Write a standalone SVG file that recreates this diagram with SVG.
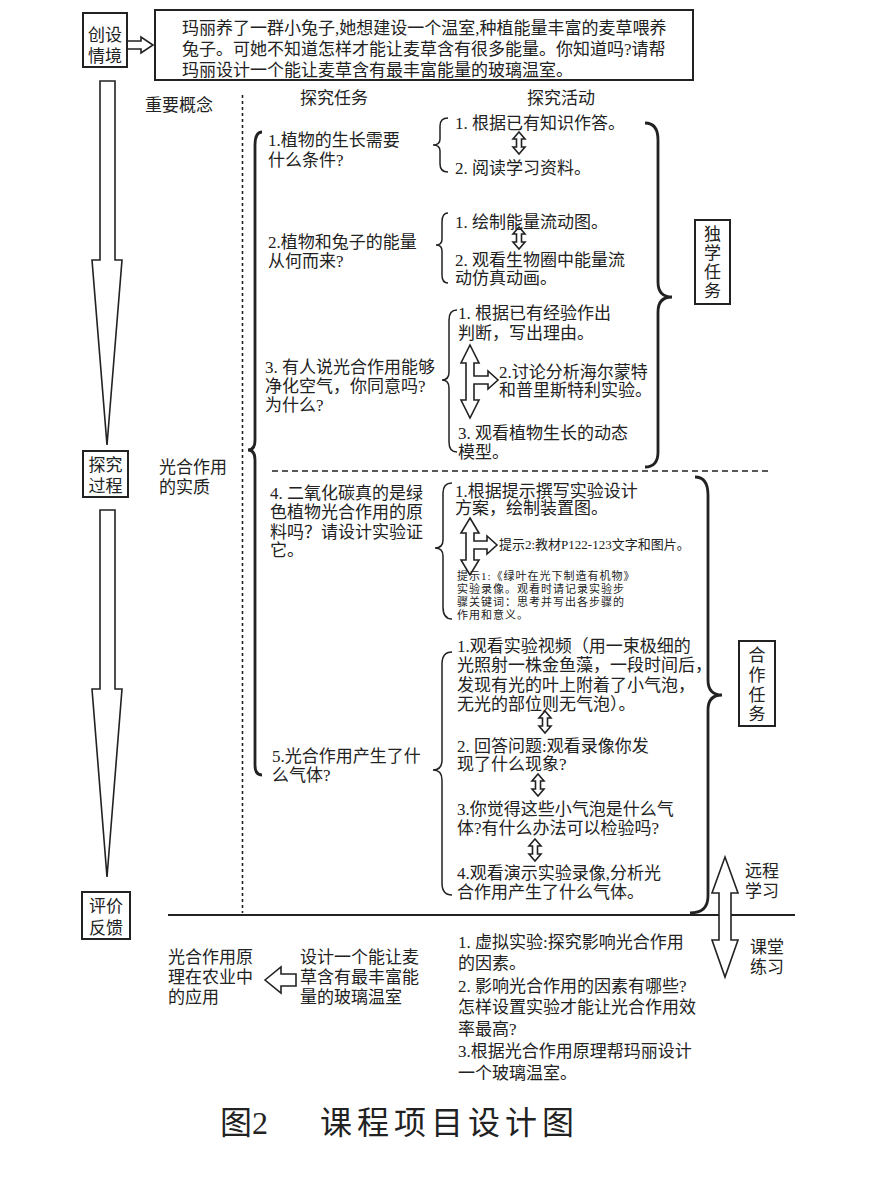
<svg xmlns="http://www.w3.org/2000/svg" width="870" height="1182" viewBox="0 0 870 1182">
<style>
text{font-family:"Liberation Serif","Noto Sans CJK SC",serif;font-size:17px;fill:#222}
.sm{font-size:13px}
.xs{font-size:11px;letter-spacing:1px}
.mid{text-anchor:middle}
.box{fill:#fff;stroke:#222;stroke-width:2}
.ol{fill:#fff;stroke:#222;stroke-width:1.6;stroke-linejoin:miter}
.br{fill:none;stroke:#222;stroke-width:1.5}
.bbr{fill:none;stroke:#222;stroke-width:2.8}
.title{font-size:32px}
</style>
<defs>
<path id="dbl" d="M0,-11 L6,-4 L2.5,-4 L2.5,4 L6,4 L0,11 L-6,4 L-2.5,4 L-2.5,-4 L-6,-4 Z" class="ol"/>
</defs>
<rect width="870" height="1182" fill="#fff"/>

<g id="connectors">
<path class="ol" d="M100,81 L115,81 L115,260 L122,260 L107,445 L92,260 L100,260 Z"/>
<path class="ol" d="M100,510 L115,510 L115,689 L122,689 L107,877 L92,689 L100,689 Z"/>
<path class="ol" d="M127,41 L141,41 L141,37 L153,45 L141,53 L141,49 L127,49 Z"/>
<line x1="242.5" y1="95" x2="242.5" y2="913" stroke="#222" stroke-width="1.6" stroke-dasharray="3,3"/>
<line x1="272" y1="471" x2="768" y2="471" stroke="#222" stroke-width="1.3" stroke-dasharray="6,4"/>
<line x1="168" y1="915" x2="795" y2="915" stroke="#222" stroke-width="2"/>
<path class="bbr" d="M262,132 Q255,132 255,145 L255,440 Q255,450 248,450 Q255,450 255,460 L255,765 Q255,775 262,775"/>
<path class="bbr" d="M645,123 Q658,123 658,140 L658,282 Q658,297 672,297 Q658,297 658,312 L658,452 Q658,467 645,467"/>
<path class="bbr" d="M695,477 Q708,477 708,495 L708,680 Q708,695 722,695 Q708,695 708,710 L708,896 Q708,913 690,913"/>
<path class="br" d="M448,118 Q440,118 440,126 L440,139 Q440,145 433,145 Q440,145 440,151 L440,164 Q440,172 448,172"/>
<path class="br" d="M448,213 Q442,213 442,222 L442,239 Q442,245 436,245 Q442,245 442,251 L442,275 Q442,283 448,283"/>
<path class="br" d="M457,310 Q449,310 449,320 L449,372 Q449,380 442,380 Q449,380 449,388 L449,442 Q449,452 457,452"/>
<path class="br" d="M452,483 Q443,483 443,493 L443,540 Q443,548 435,548 Q443,548 443,556 L443,607 Q443,619 452,619"/>
<path class="br" d="M452,652 Q442,652 442,664 L442,760 Q442,770 433,770 Q442,770 442,780 L442,883 Q442,895 452,895"/>
<use href="#dbl" x="519" y="143"/>
<use href="#dbl" x="519" y="238"/>
<use href="#dbl" x="545" y="722"/>
<use href="#dbl" x="538" y="785"/>
<use href="#dbl" x="535" y="850"/>
<path class="ol" d="M470,345 L479,363 L474,363 L474,376 L488,376 L488,371 L498,380 L488,389 L488,384 L474,384 L474,400 L479,400 L470,418 L461,400 L466,400 L466,363 L461,363 Z"/>
<path class="ol" d="M470,518 L479,533 L474,533 L474,541 L487,541 L487,536 L497,545 L487,554 L487,549 L474,549 L474,560 L479,560 L470,575 L461,560 L466,560 L466,533 L461,533 Z"/>
<path class="ol" d="M725,857 L738,893 L731,893 L731,940 L738,940 L725,977 L712,940 L719,940 L719,893 L712,893 Z"/>
<path class="ol" d="M265,980 L281,967 L281,974 L296,974 L296,986 L281,986 L281,993 Z"/>
</g>

<g id="node-chuangshe">
<rect class="box" x="83" y="13" width="44" height="54"/>
<text class="mid" x="105" y="41">创设</text>
<text class="mid" x="105" y="62">情境</text>
</g>
<g id="node-scenario">
<rect class="box" x="155" y="10" width="538" height="70"/>
<text x="182" y="34">玛丽养了一群小兔子,她想建设一个温室,种植能量丰富的麦草喂养</text>
<text x="182" y="55">兔子。可她不知道怎样才能让麦草含有很多能量。你知道吗?请帮</text>
<text x="182" y="76">玛丽设计一个能让麦草含有最丰富能量的玻璃温室。</text>
</g>
<g id="node-tanjiu">
<rect class="box" x="83" y="451" width="45" height="46"/>
<text class="mid" x="105.5" y="471">探究</text>
<text class="mid" x="105.5" y="492">过程</text>
</g>
<g id="node-pingjia">
<rect class="box" x="82" y="892" width="48" height="47"/>
<text class="mid" x="106" y="912">评价</text>
<text class="mid" x="106" y="934">反馈</text>
</g>
<g id="headers">
<text x="145" y="111">重要概念</text>
<text x="300" y="104">探究任务</text>
<text x="527" y="104">探究活动</text>
</g>
<g id="node-concept">
<text x="159" y="473">光合作用</text>
<text x="159" y="493">的实质</text>
</g>
<g id="node-task1">
<text x="268" y="146">1.植物的生长需要</text>
<text x="268" y="166">什么条件?</text>
<text x="455" y="129">1. 根据已有知识作答。</text>
<text x="455" y="174">2. 阅读学习资料。</text>
</g>
<g id="node-task2">
<text x="268" y="248">2.植物和兔子的能量</text>
<text x="268" y="267">从何而来?</text>
<text x="455" y="228">1. 绘制能量流动图。</text>
<text x="455" y="266">2. 观看生物圈中能量流</text>
<text x="455" y="284">动仿真动画。</text>
</g>
<g id="node-task3">
<text x="265" y="373">3. 有人说光合作用能够</text>
<text x="265" y="392">净化空气，你同意吗?</text>
<text x="265" y="411">为什么?</text>
<text x="458" y="319">1. 根据已有经验作出</text>
<text x="458" y="339">判断，写出理由。</text>
<text x="499" y="378">2.讨论分析海尔蒙特</text>
<text x="499" y="396">和普里斯特利实验。</text>
<text x="458" y="439">3. 观看植物生长的动态</text>
<text x="458" y="458">模型。</text>
</g>
<g id="node-duxue">
<rect class="box" x="695" y="220" width="35" height="84"/>
<text class="mid" x="712.5" y="240">独</text>
<text class="mid" x="712.5" y="259">学</text>
<text class="mid" x="712.5" y="278">任</text>
<text class="mid" x="712.5" y="297">务</text>
</g>
<g id="node-task4">
<text x="270" y="499">4. 二氧化碳真的是绿</text>
<text x="270" y="518">色植物光合作用的原</text>
<text x="270" y="538">料吗？请设计实验证</text>
<text x="270" y="556">它。</text>
<text x="455" y="497">1.根据提示撰写实验设计</text>
<text x="455" y="514">方案，绘制装置图。</text>
<text class="sm" x="499" y="549">提示2:教材P122-123文字和图片。</text>
<text class="xs" x="457" y="580">提示1:《绿叶在光下制造有机物》</text>
<text class="xs" x="457" y="593">实验录像。观看时请记录实验步</text>
<text class="xs" x="457" y="606">骤关键词：思考并写出各步骤的</text>
<text class="xs" x="457" y="619">作用和意义。</text>
</g>
<g id="node-task5">
<text x="272" y="762">5.光合作用产生了什</text>
<text x="272" y="781">么气体?</text>
<text x="457" y="652">1.观看实验视频（用一束极细的</text>
<text x="457" y="671">光照射一株金鱼藻，一段时间后，</text>
<text x="457" y="691">发现有光的叶上附着了小气泡，</text>
<text x="457" y="710">无光的部位则无气泡）。</text>
<text x="457" y="752">2. 回答问题:观看录像你发</text>
<text x="457" y="770">现了什么现象?</text>
<text x="457" y="815">3.你觉得这些小气泡是什么气</text>
<text x="457" y="834">体?有什么办法可以检验吗?</text>
<text x="457" y="879">4.观看演示实验录像,分析光</text>
<text x="457" y="898">合作用产生了什么气体。</text>
</g>
<g id="node-hezuo">
<rect class="box" x="739" y="641" width="36" height="85"/>
<text class="mid" x="757" y="661">合</text>
<text class="mid" x="757" y="681">作</text>
<text class="mid" x="757" y="701">任</text>
<text class="mid" x="757" y="720">务</text>
</g>
<g id="node-mode">
<text x="745" y="877">远程</text>
<text x="745" y="897">学习</text>
<text x="750" y="953">课堂</text>
<text x="750" y="973">练习</text>
</g>
<g id="node-application">
<text x="168" y="963">光合作用原</text>
<text x="168" y="983">理在农业中</text>
<text x="168" y="1003">的应用</text>
</g>
<g id="node-design">
<text x="300" y="963">设计一个能让麦</text>
<text x="300" y="983">草含有最丰富能</text>
<text x="300" y="1003">量的玻璃温室</text>
</g>
<g id="node-practice">
<text x="458" y="948">1. 虚拟实验:探究影响光合作用</text>
<text x="458" y="969">的因素。</text>
<text x="458" y="992">2. 影响光合作用的因素有哪些?</text>
<text x="458" y="1013">怎样设置实验才能让光合作用效</text>
<text x="458" y="1035">率最高?</text>
<text x="458" y="1057">3.根据光合作用原理帮玛丽设计</text>
<text x="458" y="1079">一个玻璃温室。</text>
</g>
<g id="caption">
<text class="title" x="220" y="1134">图2</text>
<text class="title" x="320" y="1134" letter-spacing="5">课程项目设计图</text>
</g>
</svg>
